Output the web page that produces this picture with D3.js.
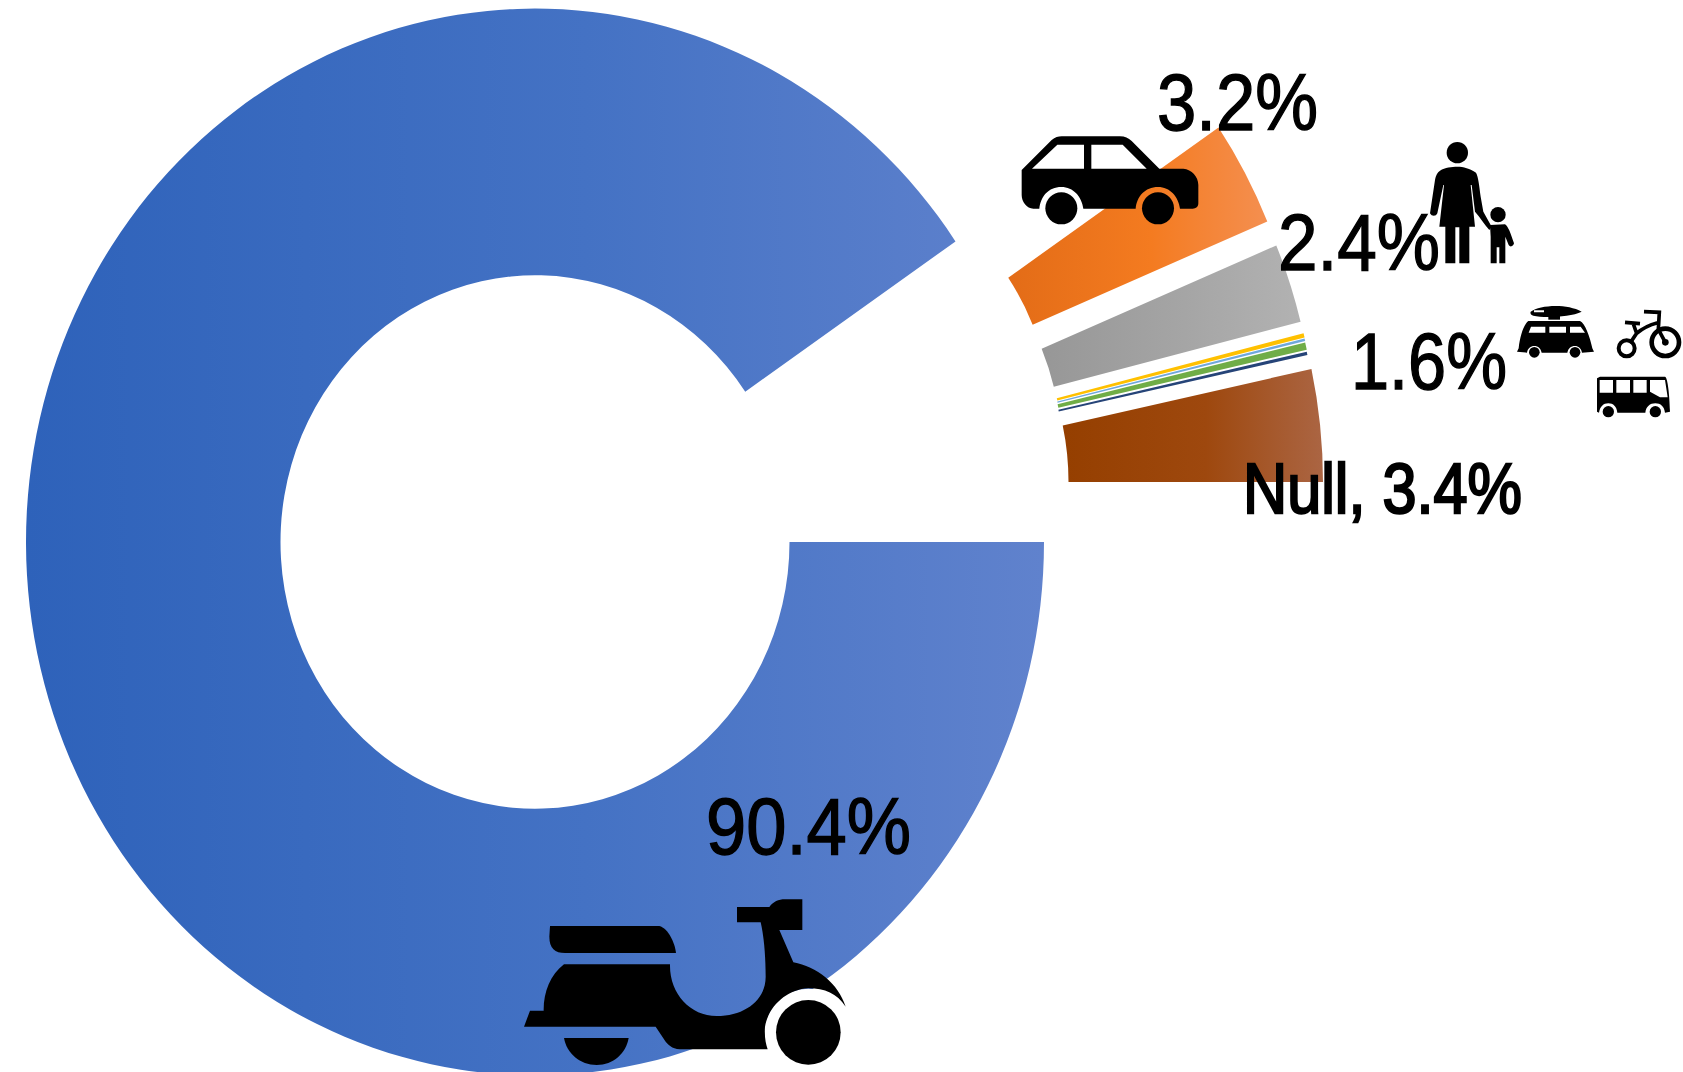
<!DOCTYPE html>
<html>
<head>
<meta charset="utf-8">
<script src="https://d3js.org/d3.v7.min.js"></script>
<style>
  html, body { margin: 0; padding: 0; background: #fff; overflow: hidden; }
  svg { display: block; }
</style>
</head>
<body>
<svg width="1683" height="1072"></svg>
<script>
// slices, clockwise starting from 3 o'clock
var categories = ["Motorbike", "Car", "Walk", "Van", "Bus", "Bicycle", "Other", "Null"];
var shares = [90.5, 3.2, 2.4, 0.13, 0.08, 0.22, 0.1, 3.4];
var labels = ["90.4%", "3.2%", "2.4%", "1.6%", "Null, 3.4%"];

// gradient colours per slice: left, middle, right
var fills = [
    ["#2e62ba", "#4472c4", "#6082cd"],
    ["#e36c17", "#f47b20", "#f48f50"],
    ["#979797", "#a5a5a5", "#b2b2b2"],
    ["#ffc000", "#ffc000", "#ffc000"],
    ["#6fa8dc", "#6fa8dc", "#6fa8dc"],
    ["#70ad47", "#70ad47", "#70ad47"],
    ["#264478", "#264478", "#264478"],
    ["#953f00", "#9e480e", "#ab6543"]
];

// how far each slice is pulled out of the ring
var pullX = [0, 263, 272, 275, 275, 275, 275, 279];
var pullY = [0, -114, -90, -78.5, -77.5, -76, -74, -60];

var labelX = [706, 1157, 1278, 1351, 1243];
var labelY = [854, 130, 270, 389, 513];
var labelW = [205, 161, 162, 156, 279];
var labelSize = [80, 80, 80, 80, 70];

var svg = d3.select("svg"),
    cx = 535,
    cy = 542,
    rOuter = 509,
    rInner = 254.5,
    stretch = 1.048;   // the whole donut is a bit taller than wide

var pie = d3.pie()
    .sort(null)
    .startAngle(Math.PI / 2)
    .endAngle(Math.PI / 2 + 2 * Math.PI);

var arc = d3.arc().innerRadius(rInner).outerRadius(rOuter);

var defs = svg.append("defs");
fills.forEach(function(f, i) {
    var grad = defs.append("linearGradient")
        .attr("id", "fill" + i)
        .attr("x1", 0).attr("x2", 1).attr("y1", 0).attr("y2", 0);
    grad.append("stop").attr("offset", "0%").attr("stop-color", f[0]);
    grad.append("stop").attr("offset", "55%").attr("stop-color", f[1]);
    grad.append("stop").attr("offset", "100%").attr("stop-color", f[2]);
});

svg.selectAll(".slice")
    .data(pie(shares))
    .enter().append("path")
    .attr("class", "slice")
    .attr("id", function(d, i) { return "slice-" + categories[i]; })
    .attr("transform", function(d, i) {
        return "translate(" + (cx + pullX[i]) + "," + (cy + pullY[i]) + ") scale(1," + stretch + ")";
    })
    .attr("d", arc)
    .attr("fill", function(d, i) { return "url(#fill" + i + ")"; });

// icons, traced at 3x so every group gets scale(1/3)
var third = 1 / 3;

function icon(x, y) {
    return svg.append("g").attr("transform", "translate(" + x + "," + y + ") scale(" + third + ")");
}

// scooter
var scooter = icon(500, 780);
scooter.append("circle").attr("cx", 925).attr("cy", 757).attr("r", 131).attr("fill", "#fff");
scooter.append("path").attr("d", "M150,438 L478,438 C505,445 525,490 528,519 L195,519 C165,519 148,505 148,470 Z");
scooter.append("path").attr("d", "M192,553 L510,553 C508,640 570,708 650,708 C735,708 797,660 797,590 C797,530 792,470 782,427 L711,427 L711,381 L808,381 C820,365 835,358 855,358 L907,358 L907,450 L838,450 L880,547 C950,560 1015,610 1037,680 C1010,640 975,625 925,625 C860,628 805,680 795,740 C793,770 797,790 803,808 L550,808 C520,808 510,800 497,785 L467,740 L72,740 L90,692 L131,692 C130,640 150,585 192,553 Z");
scooter.append("path").attr("d", "M192,774 L386,774 C378,820 340,855 290,855 C240,855 200,820 192,774 Z");
scooter.append("circle").attr("cx", 925).attr("cy", 757).attr("r", 97);

// car
var car = icon(1010, 60);
car.append("path").attr("fill-rule", "evenodd")
    .attr("d", "M35,330 L125,240 C135,232 145,229 155,229 L330,229 C345,229 355,235 365,243 L448,326 L520,326 C545,328 565,350 565,375 L565,430 C565,440 558,446 548,446 L510,446 C505,410 480,381 444,381 C405,381 380,410 377,446 L220,446 C215,410 190,381 154,381 C115,381 92,410 88,446 L70,446 C50,446 35,425 35,405 Z M66,326 L142,254 L222,254 L222,326 Z M244,254 L338,254 L410,326 L244,326 Z");
car.append("circle").attr("cx", 154).attr("cy", 445).attr("r", 48);
car.append("circle").attr("cx", 444).attr("cy", 445).attr("r", 48);

// woman and child, van, tricycle, bus share one traced crop
var small = icon(1420, 130);
small.append("circle").attr("cx", 112).attr("cy", 68).attr("r", 32);
small.append("path").attr("d", "M60,122 C75,112 95,110 112,110 C130,110 150,115 168,128 C175,140 178,170 182,200 L190,245 L215,290 L208,300 C195,285 180,262 165,245 L155,165 L152,165 L165,290 L148,290 L148,400 L118,400 L118,292 L106,292 L106,400 L76,400 L76,290 L58,290 L72,165 L70,165 L52,250 C48,260 35,260 30,250 L45,150 C48,135 52,128 60,122 Z");
small.append("circle").attr("cx", 234).attr("cy", 254).attr("r", 23);
small.append("path").attr("d", "M210,285 L255,283 C265,290 272,310 282,340 C280,350 270,352 266,345 L256,320 L256,400 L238,400 L238,352 L230,352 L230,400 L212,400 L212,320 Z");

// van
small.append("path").attr("fill-rule", "evenodd")
    .attr("d", "M325,573 L480,573 C495,580 510,620 517,655 L522,665 L486,668 C484,655 475,648 465,648 C452,648 445,655 442,668 L365,668 C362,655 355,648 343,648 C332,648 323,655 321,668 L291,665 L296,655 C300,620 310,585 325,573 Z M333,590 L376,590 L376,608 L326,608 Z M388,590 L438,590 L438,608 L388,608 Z M450,590 L482,590 L495,608 L450,608 Z");
small.append("circle").attr("cx", 343).attr("cy", 667).attr("r", 16);
small.append("circle").attr("cx", 465).attr("cy", 667).attr("r", 16);
small.append("path").attr("fill-rule", "evenodd")
    .attr("d", "M332,545 C360,525 440,520 485,545 C450,562 370,564 340,557 C332,555 330,548 332,545 Z M342,541 L372,541 L372,547 L342,547 Z");
small.append("rect").attr("x", 385).attr("y", 555).attr("width", 35).attr("height", 14);

// tricycle
small.append("circle").attr("cx", 736).attr("cy", 637).attr("r", 41).attr("fill", "none").attr("stroke", "#000").attr("stroke-width", 14);
small.append("circle").attr("cx", 736).attr("cy", 637).attr("r", 10);
small.append("circle").attr("cx", 620).attr("cy", 655).attr("r", 24).attr("fill", "none").attr("stroke", "#000").attr("stroke-width", 12);
small.append("path").attr("fill", "none").attr("stroke", "#000").attr("stroke-width", 11)
    .attr("d", "M672,545 L718,547 L715,598 L736,637 M713,578 Q675,588 650,610 L630,640 M650,610 L640,582 M615,577 L660,581");

// bus
small.append("path").attr("fill-rule", "evenodd")
    .attr("d", "M540,740 L735,740 C742,742 748,780 750,845 L735,848 C733,830 722,820 706,820 C690,820 678,830 676,848 L592,848 C590,830 580,820 565,820 C550,820 540,830 537,848 L531,845 L531,745 Z M539,750 L579,750 L579,788 L539,788 Z M589,750 L630,750 L630,788 L589,788 Z M640,750 L680,750 L680,788 L640,788 Z M690,750 L735,750 L743,802 L720,802 L690,785 Z");
small.append("circle").attr("cx", 565).attr("cy", 845).attr("r", 17);
small.append("circle").attr("cx", 706).attr("cy", 845).attr("r", 17);

// labels go on top of everything
svg.selectAll(".label")
    .data(labels)
    .enter().append("text")
    .attr("class", "label")
    .attr("x", function(d, i) { return labelX[i]; })
    .attr("y", function(d, i) { return labelY[i]; })
    .attr("textLength", function(d, i) { return labelW[i]; })
    .attr("lengthAdjust", "spacingAndGlyphs")
    .attr("font-family", "'Liberation Sans', Arial, sans-serif")
    .attr("font-size", function(d, i) { return labelSize[i]; })
    .attr("stroke", "#000")
    .attr("stroke-width", function(d, i) { return i == 4 ? 2.4 : 1.4; })
    .text(function(d) { return d; });
</script>
</body>
</html>
